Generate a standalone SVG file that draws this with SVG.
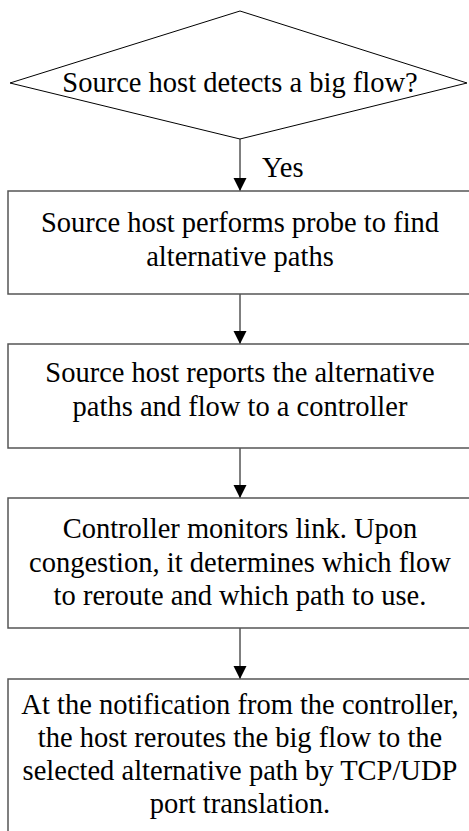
<svg xmlns="http://www.w3.org/2000/svg" width="469" height="831" viewBox="0 0 469 831">
<defs>
<marker id="arr" markerWidth="14" markerHeight="14" refX="13" refY="6.5" orient="auto" markerUnits="userSpaceOnUse">
<path d="M0,0 L13,6.5 L0,13 Z" fill="#000"/>
</marker>
</defs>
<rect width="469" height="831" fill="#fff"/>
<g id="connectors" stroke="#000" stroke-width="1" fill="none" marker-end="url(#arr)">
<line x1="240" y1="139" x2="240" y2="191"/>
<line x1="240" y1="294" x2="240" y2="344"/>
<line x1="240" y1="448" x2="240" y2="498"/>
<line x1="240" y1="628" x2="240" y2="679"/>
</g>
<text x="262" y="177" font-family="Liberation Serif" font-size="28.5" fill="#000">Yes</text>
<g id="decision">
<polygon points="240,11 467,83 240,139 10,83" fill="#fff" stroke="#000" stroke-width="1"/>
<text x="240" y="92" font-family="Liberation Serif" font-size="28.5" text-anchor="middle" fill="#000">Source host detects a big flow?</text>
</g>
<g id="probe" font-family="Liberation Serif" font-size="28.5" text-anchor="middle" fill="#000">
<rect x="8" y="191" width="470" height="103" fill="#fff" stroke="#555" stroke-width="1.5"/>
<text x="240" y="232">Source host performs probe to find</text>
<text x="240" y="266">alternative paths</text>
</g>
<g id="report" font-family="Liberation Serif" font-size="28.5" text-anchor="middle" fill="#000">
<rect x="8" y="344" width="470" height="104" fill="#fff" stroke="#555" stroke-width="1.5"/>
<text x="240" y="382">Source host reports the alternative</text>
<text x="240" y="416">paths and flow to a controller</text>
</g>
<g id="monitor" font-family="Liberation Serif" font-size="28.5" text-anchor="middle" fill="#000">
<rect x="8" y="498" width="470" height="130" fill="#fff" stroke="#555" stroke-width="1.5"/>
<text x="240" y="538">Controller monitors link. Upon</text>
<text x="240" y="571.5">congestion, it determines which flow</text>
<text x="240" y="605">to reroute and which path to use.</text>
</g>
<g id="reroute" font-family="Liberation Serif" font-size="28.5" text-anchor="middle" fill="#000">
<rect x="8" y="679" width="470" height="160" fill="#fff" stroke="#555" stroke-width="1.5"/>
<text x="240" y="714">At the notification from the controller,</text>
<text x="240" y="747">the host reroutes the big flow to the</text>
<text x="240" y="780">selected alternative path by TCP/UDP</text>
<text x="240" y="813">port translation.</text>
</g>
</svg>
